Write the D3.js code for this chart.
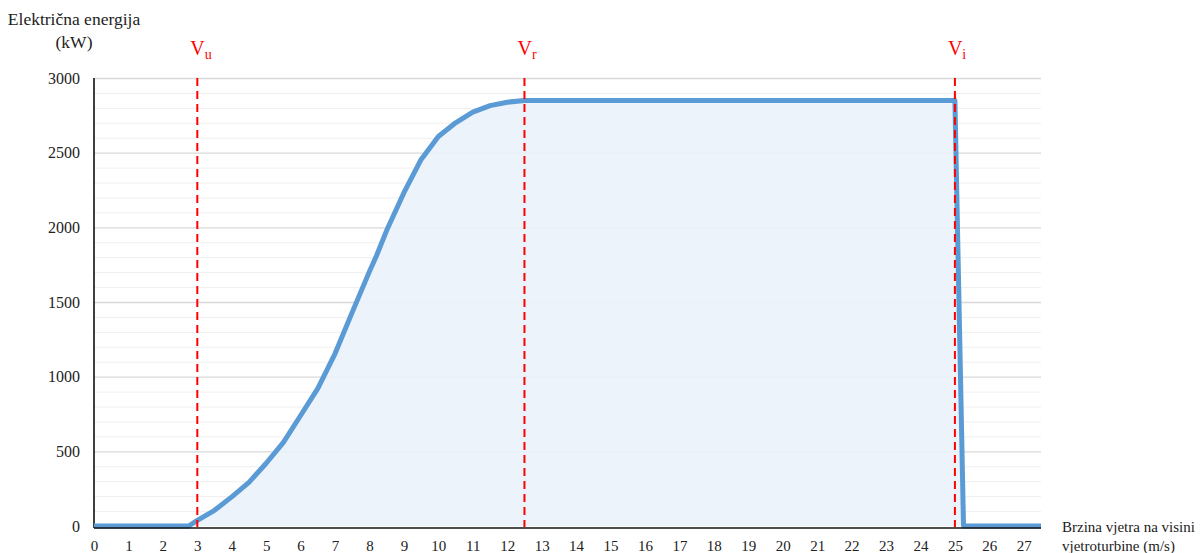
<!DOCTYPE html>
<html>
<head>
<meta charset="utf-8">
<script src="https://cdn.jsdelivr.net/npm/d3@7"></script>
<style>
  html, body { margin: 0; padding: 0; background: #fff; }
  svg { display: block; }
  svg text { font-family: 'Liberation Serif', 'Times New Roman', Times, 'DejaVu Serif', serif !important; fill: #222; }
</style>
</head>
<body>
<div id="chart"></div>
<script>
// ---- data ----
const windSpeed = [0, 2.75, 3, 3.5, 4, 4.5, 5, 5.5, 6, 6.5, 7, 7.5, 8, 8.2, 8.5, 9, 9.5, 10, 10.5, 11, 11.5, 12, 12.5, 25, 25.25, 27.5];
const power     = [0, 0, 38, 105, 195, 292, 420, 560, 740, 922, 1155, 1432, 1705, 1808, 1980, 2232, 2455, 2608, 2700, 2772, 2815, 2838, 2850, 2850, 0, 0];
const xTicks = d3.range(0, 28);
const yTicks = [0, 500, 1000, 1500, 2000, 2500, 3000];
const yMinor = d3.range(0, 3001, 100);
const markerSpeeds = [3, 12.5, 25];
const markerSubs = ["u", "r", "i"];
const yTitle = ["Električna energija", "(kW)"];
const xTitle = ["Brzina vjetra na visini", "vjetroturbine (m/s)"];

// ---- layout ----
const W = 1200, H = 553;
const x = d3.scaleLinear().domain([0, 27.5]).range([94, 1041]);
const y = d3.scaleLinear().domain([0, 3000]).range([526, 78]);

const svg = d3.select("#chart").append("svg").attr("width", W).attr("height", H);

// minor grid
svg.append("g").selectAll("line").data(yMinor.filter(v => v % 500 !== 0)).join("line")
  .attr("x1", x(0)).attr("x2", x(27.5))
  .attr("y1", d => y(d) + 0.5).attr("y2", d => y(d) + 0.5)
  .attr("stroke", "#EFEFEF").attr("stroke-width", 1);
// major grid
svg.append("g").selectAll("line").data(yTicks.filter(v => v > 0)).join("line")
  .attr("x1", x(0)).attr("x2", x(27.5))
  .attr("y1", d => y(d) + 0.5).attr("y2", d => y(d) + 0.5)
  .attr("stroke", "#D9D9D9").attr("stroke-width", 1.3);

const pts = windSpeed.map((s, i) => [s, power[i]]);

// area
svg.append("path").datum(pts)
  .attr("d", d3.area().x(d => x(d[0])).y0(y(0)).y1(d => y(d[1])))
  .attr("fill", "#EAF2FB").attr("fill-opacity", 0.9);

// y axis line
svg.append("line").attr("x1", x(0)).attr("x2", x(0)).attr("y1", y(3000)).attr("y2", y(0) + 2)
  .attr("stroke", "#000").attr("stroke-width", 1.5);

// curve
svg.append("path").datum(pts)
  .attr("d", d3.line().x(d => x(d[0])).y(d => y(d[1])))
  .attr("fill", "none").attr("stroke", "#5B9BD5").attr("stroke-width", 5)
  .attr("stroke-linejoin", "round");

// x axis line
svg.append("line").attr("x1", x(0)).attr("x2", x(27.5)).attr("y1", y(0) + 2).attr("y2", y(0) + 2)
  .attr("stroke", "#111").attr("stroke-width", 1.5);

// y axis labels
const yAxis = d3.axisLeft(y).tickValues(yTicks).tickSize(0).tickPadding(14).tickFormat(d3.format("d"));
const gy = svg.append("g").attr("transform", `translate(${x(0)},0)`).call(yAxis);
gy.select(".domain").remove();
gy.selectAll("text").style("font-size", "16px").attr("fill", "#222");

// x axis labels
const xAxis = d3.axisBottom(x).tickValues(xTicks).tickSize(0).tickPadding(14).tickFormat(d3.format("d"));
const gx = svg.append("g").attr("transform", `translate(0,${y(0)})`).call(xAxis);
gx.select(".domain").remove();
gx.selectAll("text").style("font-size", "15px").attr("fill", "#222");

// red dashed marker lines
svg.append("g").selectAll("line").data(markerSpeeds).join("line")
  .attr("x1", d => x(d)).attr("x2", d => x(d))
  .attr("y1", y(3000)).attr("y2", y(0) + 1)
  .attr("stroke", "#FF0000").attr("stroke-width", 2).attr("stroke-dasharray", "8,5");

// marker labels
const ml = svg.append("g").selectAll("text").data(markerSpeeds).join("text")
  .attr("x", d => x(d) - 7).attr("y", 55)
  .style("fill", "#FF0000").style("font-size", "20px");
ml.append("tspan").text("V");
ml.append("tspan").attr("dy", 4).style("font-size", "14px").text((d, i) => markerSubs[i]);

// y title
svg.append("g").selectAll("text").data(yTitle).join("text")
  .attr("x", 74).attr("y", (d, i) => 25 + i * 23)
  .attr("text-anchor", "middle").style("font-size", "17.5px").text(d => d);

// x title
svg.append("g").selectAll("text").data(xTitle).join("text")
  .attr("x", 1062).attr("y", (d, i) => 532 + i * 19)
  .style("font-size", "15px").text(d => d);
</script>
</body>
</html>
